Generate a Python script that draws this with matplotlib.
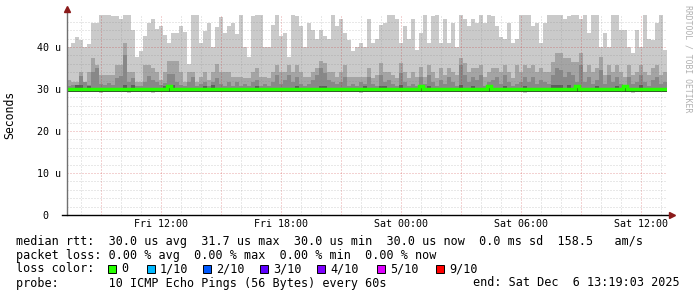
import numpy as np
import pandas as pd
import matplotlib
matplotlib.use("Agg")
import matplotlib.pyplot as plt
import matplotlib.dates as mdates
from matplotlib.patches import Rectangle

plt.rcParams['font.family'] = ['DejaVu Sans Mono']

# 150 consolidated steps of 12 minutes, Fri 07:19 -> Sat 13:19
start = pd.Timestamp("2025-12-05 07:19:03")
n_steps = 150
step = pd.Timedelta(minutes=12)

# smoke band tops (microseconds), from outer (max ping) to inner
ping_max = [40.0, 41.0, 42.3, 41.7, 40.0, 40.7, 45.8, 45.8, 47.6, 47.6,
            47.6, 47.4, 47.4, 46.6, 47.6, 47.6, 44.0, 37.7, 39.1, 42.5,
            45.6, 46.6, 44.4, 45.0, 42.9, 41.0, 43.3, 43.3, 45.0, 43.6,
            36.0, 47.6, 47.6, 41.0, 43.8, 45.8, 40.1, 44.8, 47.2, 43.4,
            45.0, 45.6, 43.1, 47.6, 40.1, 37.7, 47.4, 47.6, 47.6, 40.1,
            40.1, 45.2, 47.6, 42.5, 43.4, 37.7, 47.6, 47.4, 45.0, 40.1,
            45.8, 44.0, 42.0, 44.0, 42.6, 41.8, 47.6, 45.0, 46.6, 43.4,
            41.7, 39.1, 40.1, 40.9, 40.1, 46.6, 40.9, 41.8, 45.2, 45.8,
            47.6, 47.6, 46.6, 40.9, 45.0, 41.8, 46.6, 39.2, 43.3, 47.6,
            40.9, 47.4, 47.6, 40.9, 46.6, 40.9, 45.8, 40.1, 47.6, 46.6,
            45.0, 46.6, 45.8, 47.6, 45.8, 47.6, 47.4, 45.0, 42.3, 41.8,
            45.8, 40.9, 42.0, 47.6, 47.6, 47.6, 45.0, 45.8, 40.9, 45.8,
            47.6, 47.6, 47.6, 47.6, 46.6, 47.4, 47.6, 47.6, 46.6, 47.6,
            43.4, 47.6, 47.6, 40.1, 43.4, 40.1, 47.6, 47.6, 44.0, 44.0,
            40.1, 38.5, 44.0, 40.1, 47.6, 41.8, 41.7, 45.8, 47.6, 39.2]

ping_9 = [32.1, 31.7, 31.7, 34.1, 31.7, 34.1, 37.3, 35.7, 33.3, 33.3,
          33.3, 33.3, 35.7, 35.7, 40.9, 34.1, 34.1, 31.7, 31.7, 35.7,
          35.7, 34.9, 34.1, 32.1, 34.1, 36.7, 36.7, 36.7, 34.1, 31.7,
          34.1, 34.1, 31.7, 32.9, 34.1, 32.1, 34.1, 36.0, 34.0, 34.0,
          34.0, 32.9, 32.9, 32.9, 32.5, 32.5, 34.0, 34.9, 32.9, 32.9,
          32.5, 34.0, 35.7, 34.0, 34.0, 35.7, 34.0, 35.7, 34.0, 32.9,
          32.9, 34.0, 34.9, 36.7, 36.2, 34.1, 34.1, 32.9, 34.1, 35.7,
          32.9, 32.9, 32.9, 32.9, 32.9, 35.0, 32.5, 33.3, 36.1, 34.1,
          34.1, 33.3, 32.5, 36.1, 34.1, 32.5, 34.1, 32.9, 35.3, 32.9,
          35.7, 34.1, 32.5, 34.9, 33.3, 34.9, 34.1, 33.3, 37.3, 36.1,
          34.1, 34.9, 34.9, 35.7, 32.9, 34.1, 34.9, 34.9, 34.1, 35.7,
          34.1, 32.5, 35.7, 34.1, 35.7, 34.9, 35.7, 34.1, 34.9, 34.1,
          34.1, 36.5, 38.5, 38.5, 37.3, 37.3, 36.5, 36.5, 38.5, 34.1,
          35.7, 34.1, 34.9, 37.7, 33.3, 35.7, 34.1, 35.7, 34.1, 32.9,
          35.7, 33.3, 34.1, 35.7, 34.1, 33.3, 34.9, 35.7, 33.3, 34.1]

ping_8 = [30.8, 31.0, 30.6, 33.0, 31.7, 31.0, 34.0, 35.0, 31.2, 30.9,
          31.5, 31.0, 32.5, 33.2, 38.0, 31.7, 32.5, 30.6, 30.8, 31.7,
          33.2, 32.1, 31.7, 30.9, 31.5, 33.6, 33.6, 31.7, 31.0, 30.6,
          31.7, 32.9, 30.8, 31.2, 31.7, 30.6, 31.7, 32.5, 31.2, 30.8,
          31.7, 30.8, 31.7, 30.6, 31.2, 30.8, 31.7, 32.1, 30.6, 31.2,
          30.8, 31.7, 33.3, 31.2, 32.1, 33.3, 31.7, 32.9, 31.2, 30.8,
          31.2, 32.1, 33.3, 34.9, 33.7, 32.1, 31.7, 31.2, 31.7, 32.9,
          30.8, 31.2, 30.6, 31.7, 31.2, 32.9, 31.2, 30.8, 33.3, 31.7,
          32.1, 31.2, 30.8, 33.7, 31.7, 30.8, 31.2, 30.6, 32.9, 31.2,
          33.3, 31.7, 30.8, 32.1, 31.2, 32.9, 31.7, 30.8, 35.7, 33.3,
          31.7, 32.9, 32.1, 33.3, 30.8, 31.7, 32.1, 32.9, 31.2, 33.3,
          31.7, 30.8, 31.2, 31.7, 32.9, 31.7, 32.9, 31.2, 32.1, 31.7,
          31.2, 33.3, 34.9, 34.5, 32.9, 34.1, 33.3, 31.7, 35.7, 31.7,
          32.9, 31.2, 32.1, 34.5, 31.2, 33.3, 31.7, 32.9, 31.2, 30.8,
          32.9, 31.2, 31.7, 33.3, 31.7, 30.8, 32.1, 32.9, 31.2, 31.7]

ping_7 = [30.2, 30.2, 30.9, 30.9, 30.2, 30.8, 30.2, 30.2, 30.2, 30.2,
          30.2, 30.2, 30.2, 30.2, 31.0, 30.2, 31.0, 30.2, 30.2, 30.2,
          30.2, 30.2, 30.2, 30.2, 30.8, 30.9, 30.9, 30.2, 30.2, 30.2,
          30.2, 30.2, 30.2, 30.2, 30.8, 30.2, 30.9, 30.2, 30.2, 30.2,
          30.2, 30.2, 30.2, 30.2, 30.2, 30.2, 30.2, 30.8, 30.2, 30.2,
          30.2, 30.2, 30.2, 30.2, 30.2, 30.2, 30.2, 30.8, 30.2, 30.2,
          30.2, 30.2, 30.2, 30.8, 30.8, 30.2, 30.2, 30.2, 30.2, 30.2,
          30.2, 30.2, 30.2, 30.2, 30.8, 30.2, 30.2, 30.2, 30.8, 30.8,
          30.2, 30.2, 30.2, 30.9, 30.2, 30.2, 30.2, 30.2, 30.2, 30.2,
          30.8, 30.2, 30.2, 30.2, 30.2, 30.2, 30.2, 30.2, 31.0, 30.2,
          30.2, 30.8, 30.2, 30.2, 30.2, 30.2, 30.2, 30.2, 30.2, 30.8,
          30.2, 30.2, 30.2, 30.2, 30.8, 30.2, 30.2, 30.2, 30.2, 30.2,
          30.2, 30.9, 31.0, 31.0, 30.2, 30.9, 30.2, 30.2, 30.2, 30.2,
          30.2, 30.2, 30.8, 30.2, 30.2, 30.2, 30.2, 30.8, 30.2, 30.2,
          30.2, 30.2, 30.2, 30.9, 30.2, 30.2, 30.2, 30.2, 30.2, 30.2]

# steps where the median sits slightly higher (dark block under it)
shifted_steps = [25, 88, 105, 127, 139]
# steps where the fastest ping dips a little below the median
dipped_steps = [8, 15, 21, 73, 114, 141]

median_base = 30.0
median_high = 30.8
floor_base = 30.0
floor_dip = 29.0

y_ticks = [0, 10, 20, 30, 40]
y_labels = ["0  ", "10 u", "20 u", "30 u", "40 u"]

loss_labels = ["0", "1/10", "2/10", "3/10", "4/10", "5/10", "9/10"]
loss_colors = ["#26ff00", "#00b8ff", "#0059ff", "#5e00ff", "#7e00ff", "#dd00ff", "#ff0000"]
loss_x = [108, 147, 203, 260, 317, 377, 436]

stat_lines = [
    "median rtt:  30.0 us avg  31.7 us max  30.0 us min  30.0 us now  0.0 ms sd  158.5   am/s",
    "packet loss: 0.00 % avg  0.00 % max  0.00 % min  0.00 % now",
    "loss color:",
    "probe:       10 ICMP Echo Pings (56 Bytes) every 60s",
]
end_text = "end: Sat Dec  6 13:19:03 2025"

# ---------------------------------------------------------------
W, H = 697, 297
fig = plt.figure(figsize=(W / 100, H / 100), dpi=100)
fig.patch.set_facecolor("white")
ax = fig.add_axes([67 / W, (H - 215) / H, 600 / W, 200 / H])
ax.set_facecolor("white")

times = pd.date_range(start, periods=n_steps + 1, freq=step)
edges = mdates.date2num(times.to_pydatetime())

median = np.full(n_steps, median_base)
floor = np.full(n_steps, floor_base)
for i in dipped_steps:
    floor[i] = floor_dip
for i in shifted_steps:
    median[i] = median_high

# grid (axis zorder 2.5 when axisbelow is False) sits over the smoke
ax.stairs(np.array(ping_max), edges, baseline=floor, fill=True, color="#cacaca", lw=0, zorder=1.0)
ax.stairs(np.array(ping_9), edges, baseline=floor_base, fill=True, color="#a4a4a4", lw=0, zorder=1.2)
ax.stairs(np.array(ping_8), edges, baseline=floor_base, fill=True, color="#888888", lw=0, zorder=1.4)
ax.stairs(np.array(ping_7), edges, baseline=floor_base, fill=True, color="#5e5e5e", lw=0, zorder=1.6)
dark = np.where(median > median_base, median, floor_base)
ax.stairs(dark, edges, baseline=29.4, fill=True, color="#323232", lw=0, zorder=1.8)

ax.stairs(median, edges, baseline=None, color="#26ff00", lw=2.5, zorder=3)

ax.set_xlim(edges[0], edges[-1])
ax.set_ylim(0, 200 / 4.2)
ax.xaxis_date()

ax.xaxis.set_major_locator(mdates.HourLocator(byhour=range(0, 24, 3)))
ax.xaxis.set_minor_locator(mdates.HourLocator())
def xfmt(x, pos):
    d = mdates.num2date(x)
    return d.strftime("%a %H:%M") if d.hour % 6 == 0 else ""
ax.xaxis.set_major_formatter(plt.FuncFormatter(xfmt))

ax.set_yticks(y_ticks)
ax.set_yticklabels(y_labels)
ax.set_yticks(np.arange(0, 48, 2), minor=True)

ax.set_axisbelow(False)
ax.grid(which="minor", color="#808080", alpha=0.35, lw=0.72, ls=(0, (1, 2)))
ax.grid(which="major", color="#c00000", alpha=0.35, lw=0.72, ls=(0, (1, 2)))

ax.tick_params(which="both", length=0, labelsize=7.2, colors="black", pad=4)
ax.tick_params(axis="x", pad=3)
for s in ax.spines.values():
    s.set_visible(False)

# axes lines with arrows
ax.plot([0, 0], [0, 1.02], transform=ax.transAxes, color="#707070", lw=1, clip_on=False, zorder=9)
ax.plot([0], [1.03], transform=ax.transAxes, marker="^", ms=4, color="#8b1a1a", clip_on=False, zorder=9)
ax.plot([-0.008, 1.004], [0, 0], transform=ax.transAxes, color="black", lw=1, clip_on=False, zorder=9)
ax.plot([1.008], [0], transform=ax.transAxes, marker=">", ms=4, color="#8b1a1a", clip_on=False, zorder=9)

ax.set_ylabel("Seconds", fontsize=8.3)
ax.yaxis.set_label_coords(-0.085, 0.5)

fig.text(688 / W, 1 - 5 / H, "RRDTOOL / TOBI OETIKER", rotation=-90, fontsize=5.9,
         color="#b0b0b0", ha="center", va="top")

# legend block
ys = [241, 255, 269, 283]
for txt, y in zip(stat_lines, ys):
    fig.text(16 / W, 1 - y / H, txt, fontsize=8.5, ha="left", va="center")
fig.text(680 / W, 1 - 283 / H, end_text, fontsize=8.5, ha="right", va="center")

for lab, col, x in zip(loss_labels, loss_colors, loss_x):
    fig.patches.append(Rectangle((x / W, 1 - 273 / H), 8 / W, 8 / H, facecolor=col,
                                 edgecolor="black", lw=0.7, transform=fig.transFigure))
    fig.text((x + 13) / W, 1 - 269 / H, lab, fontsize=8.5, ha="left", va="center")

fig.savefig("out.png", dpi=100)
